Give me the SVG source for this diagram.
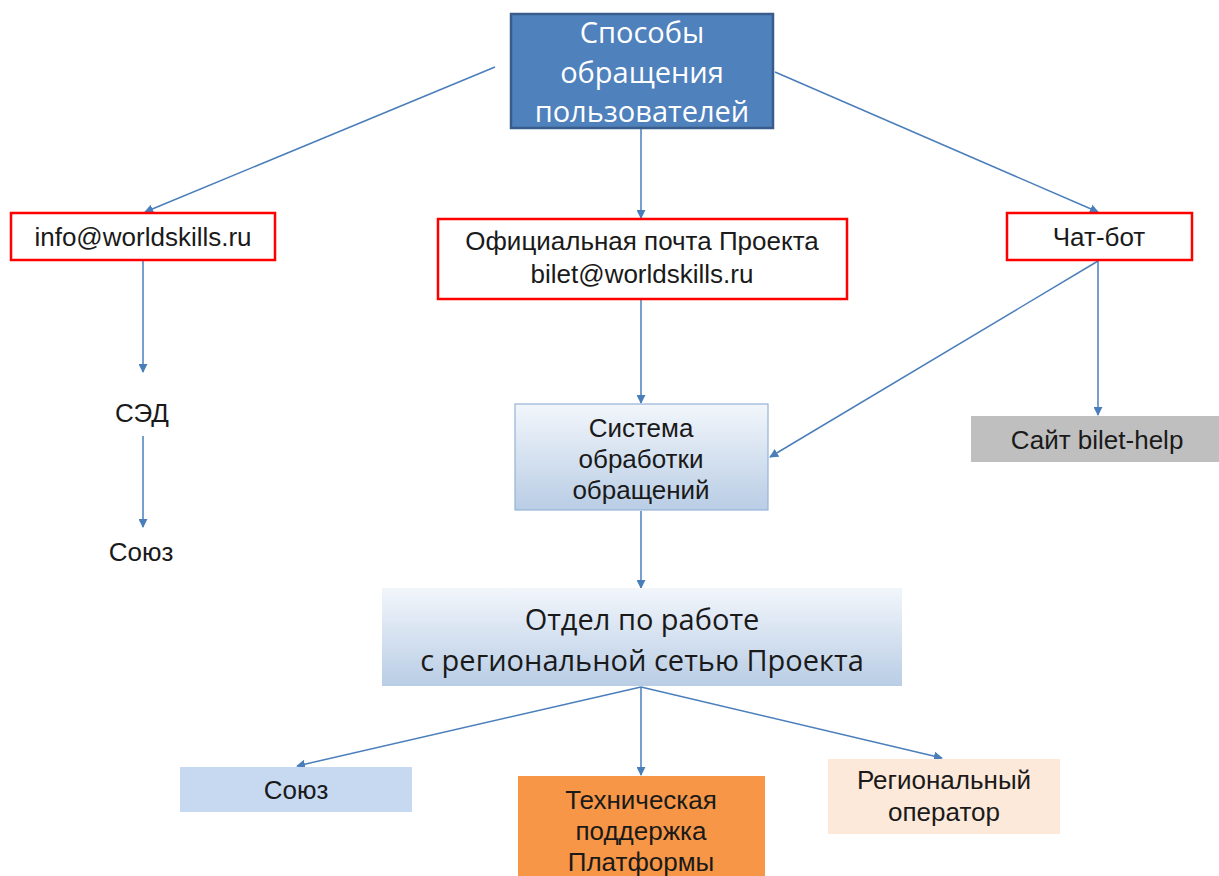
<svg xmlns="http://www.w3.org/2000/svg" width="1219" height="876" viewBox="0 0 1219 876">
<style>
.t{font-family:"Liberation Sans",Arial,sans-serif;font-size:26px;fill:#1a1a1a;text-anchor:middle}
.c{font-family:"Open Sans","Liberation Sans",sans-serif;font-size:29px;text-anchor:middle}
.red{fill:#fff;stroke:#ff0000;stroke-width:2.5}
.ln{stroke:#4a7ebb;stroke-width:1.5;fill:none;marker-end:url(#ah)}
</style>
<defs>
<marker id="ah" viewBox="0 0 10 10" refX="9" refY="5" markerWidth="9" markerHeight="9" markerUnits="userSpaceOnUse" orient="auto">
<path d="M0,0 L10,5 L0,10 z" fill="#4a7ebb"/>
</marker>
<linearGradient id="g1" x1="0" y1="0" x2="0" y2="1">
<stop offset="0" stop-color="#f2f6fb"/>
<stop offset="1" stop-color="#b9cde5"/>
</linearGradient>
</defs>
<rect width="1219" height="876" fill="#fff"/>
<g id="connectors">
<line class="ln" x1="495" y1="67" x2="145" y2="212"/>
<line class="ln" x1="641" y1="129" x2="641" y2="218"/>
<line class="ln" x1="775" y1="72" x2="1098" y2="212"/>
<line class="ln" x1="143" y1="261" x2="143" y2="372"/>
<line class="ln" x1="143" y1="436" x2="143" y2="527"/>
<line class="ln" x1="641" y1="300" x2="641" y2="403"/>
<line class="ln" x1="1098" y1="261" x2="770" y2="457"/>
<line class="ln" x1="1098" y1="261" x2="1098" y2="415"/>
<line class="ln" x1="641" y1="511" x2="641" y2="588"/>
<line class="ln" x1="641" y1="687" x2="297" y2="766"/>
<line class="ln" x1="641" y1="687" x2="641" y2="775"/>
<line class="ln" x1="641" y1="687" x2="942" y2="758"/>
</g>
<g id="n-top">
<rect x="511" y="14" width="262" height="114" fill="#4f81bd" stroke="#385d8a" stroke-width="2.5"/>
<text class="c" fill="#fff" x="642" y="43">Способы</text>
<text class="c" fill="#fff" x="642" y="83">обращения</text>
<text class="c" fill="#fff" x="642" y="122">пользователей</text>
</g>
<g id="n-info">
<rect class="red" x="11" y="213" width="264" height="47"/>
<text class="t" x="143" y="246">info@worldskills.ru</text>
</g>
<g id="n-official">
<rect class="red" x="438" y="219" width="409" height="80"/>
<text class="t" x="642" y="250">Официальная почта Проекта</text>
<text class="t" x="642" y="283">bilet@worldskills.ru</text>
</g>
<g id="n-chatbot">
<rect class="red" x="1007" y="213" width="185" height="47"/>
<text class="t" x="1099" y="246">Чат-бот</text>
</g>
<g id="n-sed">
<text class="t" x="142" y="422">СЭД</text>
</g>
<g id="n-soyuz1">
<text class="t" x="141" y="561">Союз</text>
</g>
<g id="n-system">
<rect x="515" y="404" width="253" height="106" fill="url(#g1)" stroke="#95b3d7" stroke-width="1.2"/>
<text class="t" x="641" y="437">Система</text>
<text class="t" x="641" y="468">обработки</text>
<text class="t" x="641" y="499">обращений</text>
</g>
<g id="n-site">
<rect x="971" y="416" width="248" height="46" fill="#bfbfbf"/>
<text class="t" x="1097" y="449">Сайт bilet-help</text>
</g>
<g id="n-otdel">
<rect x="382" y="588" width="520" height="98" fill="url(#g1)"/>
<text class="c" fill="#1a1a1a" x="642" y="630">Отдел по работе</text>
<text class="c" fill="#1a1a1a" x="642" y="671">с региональной сетью Проекта</text>
</g>
<g id="n-soyuz2">
<rect x="180" y="767" width="232" height="45" fill="#c6d9f1"/>
<text class="t" x="296" y="799">Союз</text>
</g>
<g id="n-tech">
<rect x="518" y="776" width="247" height="100" fill="#f79646"/>
<text class="t" x="641" y="809">Техническая</text>
<text class="t" x="641" y="840">поддержка</text>
<text class="t" x="641" y="871">Платформы</text>
</g>
<g id="n-regional">
<rect x="828" y="759" width="232" height="75" fill="#fde9d9"/>
<text class="t" x="944" y="789">Региональный</text>
<text class="t" x="944" y="821">оператор</text>
</g>
</svg>
